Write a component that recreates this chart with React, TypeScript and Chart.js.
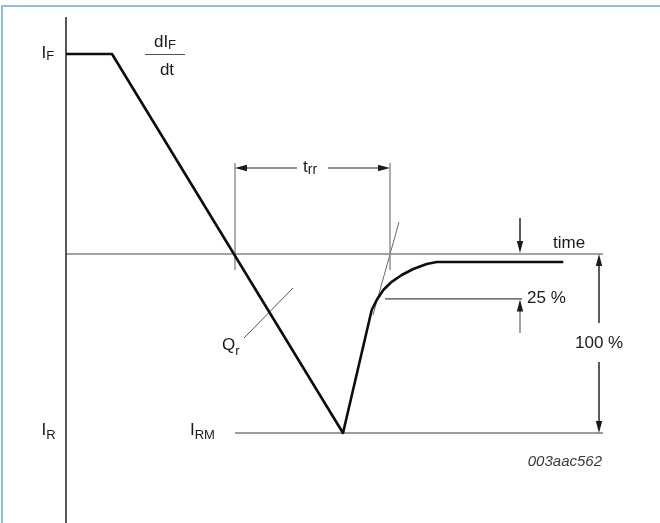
import React, { useEffect, useRef } from "react";
import { Chart, registerables } from "chart.js";

Chart.register(...registerables);

// ---- data (time in arbitrary units, current normalised to I_F = 1) ----
const I_F = 1.0;
const I_RM = -0.895;
const I_25 = -0.224; // 25 % of I_RM
const T_ZERO = 16.9; // zero crossing, start of t_rr
const T_RR_END = 32.4; // end of t_rr
const T_MARK = 45.4; // position of the small arrows
const T_DIM = 53.3; // position of 100 % dimension
const T_LINE_END = 53.7;

const curveTime = [0, 4.6, 27.7, 30.57, 31.07, 31.73, 32.57, 33.57, 34.73, 36.07, 37.07, 49.73];
const curveCurrent = [1, 1, -0.895, -0.28, -0.23, -0.18, -0.139, -0.105, -0.075, -0.05, -0.04, -0.04];

const axisTime = [0, 0];
const axisCurrent = [1.185, -1.345];

const tangentTime = [33.3, 30.7];
const tangentCurrent = [0.16, -0.305];

const qrTickTime = [22.7, 17.8];
const qrTickCurrent = [-0.17, -0.42];

const trrLevel = 0.43;
const trrVertTop = 0.455;
const trrVertBottom = -0.08;

const FONT = '"Liberation Sans", Arial, Helvetica, sans-serif';
const LINE_GREY = "#6a6a6a";

function seg(x1: number, y1: number, x2: number, y2: number, color = LINE_GREY, width = 1) {
  return {
    data: [
      { x: x1, y: y1 },
      { x: x2, y: y2 },
    ],
    borderColor: color,
    borderWidth: width,
    pointRadius: 0,
    tension: 0,
    fill: false,
  };
}

function arrowHead(ctx: CanvasRenderingContext2D, x: number, y: number, dir: string) {
  const L = 12;
  const W = 3.2;
  ctx.beginPath();
  ctx.moveTo(x, y);
  if (dir === "left") {
    ctx.lineTo(x + L, y - W);
    ctx.lineTo(x + L, y + W);
  } else if (dir === "right") {
    ctx.lineTo(x - L, y - W);
    ctx.lineTo(x - L, y + W);
  } else if (dir === "up") {
    ctx.lineTo(x - W, y + L);
    ctx.lineTo(x + W, y + L);
  } else {
    ctx.lineTo(x - W, y - L);
    ctx.lineTo(x + W, y - L);
  }
  ctx.closePath();
  ctx.fill();
}

function subText(
  ctx: CanvasRenderingContext2D,
  x: number,
  y: number,
  main: string,
  sub: string,
  size = 17,
  subSize = 13,
  dy = 3
) {
  ctx.font = `${size}px ${FONT}`;
  ctx.fillText(main, x, y);
  const w = ctx.measureText(main).width;
  ctx.font = `${subSize}px ${FONT}`;
  ctx.fillText(sub, x + w, y + dy);
  return w + ctx.measureText(sub).width;
}

const annotationPlugin = {
  id: "annotations",
  afterDatasetsDraw(chart: any) {
    const ctx: CanvasRenderingContext2D = chart.ctx;
    const xs = chart.scales.x;
    const ys = chart.scales.y;
    const px = (t: number) => xs.getPixelForValue(t);
    const py = (i: number) => ys.getPixelForValue(i);
    ctx.save();
    ctx.fillStyle = "#1a1a1a";
    ctx.textBaseline = "alphabetic";
    ctx.textAlign = "left";

    // arrowheads
    arrowHead(ctx, px(T_ZERO), py(trrLevel), "left");
    arrowHead(ctx, px(T_RR_END), py(trrLevel), "right");
    arrowHead(ctx, px(T_MARK), py(0.005), "down");
    arrowHead(ctx, px(T_MARK), py(I_25 - 0.004), "up");
    arrowHead(ctx, px(T_DIM), py(0), "up");
    arrowHead(ctx, px(T_DIM), py(I_RM), "down");

    const x0 = px(0);
    // I_F
    subText(ctx, x0 - 24.5, py(I_F) + 4, "I", "F", 17, 13, 2);
    // I_R
    subText(ctx, x0 - 24.5, py(I_RM) + 2, "I", "R", 17, 13, 4);
    // I_RM
    subText(ctx, px(12.4), py(I_RM) + 2, "I", "RM", 17, 13, 4);

    // dI_F / dt
    const fx = px(9.9);
    const fy = py(I_F);
    ctx.font = `17px ${FONT}`;
    const wdI = ctx.measureText("dI").width;
    ctx.font = `13px ${FONT}`;
    const wF = ctx.measureText("F").width;
    const fracW = wdI + wF;
    subText(ctx, fx - fracW / 2, fy - 7, "dI", "F", 17, 13, 1.5);
    ctx.strokeStyle = "#555";
    ctx.lineWidth = 1;
    ctx.beginPath();
    ctx.moveTo(px(7.9), fy + 0.5);
    ctx.lineTo(px(11.9), fy + 0.5);
    ctx.stroke();
    ctx.font = `17px ${FONT}`;
    ctx.textAlign = "center";
    ctx.fillText("dt", fx + 2, fy + 21);
    ctx.textAlign = "left";

    // t_rr
    subText(ctx, px(23.7), py(trrLevel) + 4, "t", "rr", 17, 14, 2);

    // Q_r
    subText(ctx, px(15.6), py(-0.48), "Q", "r", 17, 13, 5);

    // time
    ctx.font = `17px ${FONT}`;
    ctx.fillText("time", px(48.7), py(0) - 6);
    // 25 %
    ctx.fillText("25 %", px(46.1), py(I_25) + 4);
    // 100 %
    ctx.fillText("100 %", px(50.9), py(-0.47));

    // figure code
    ctx.font = `italic 15px ${FONT}`;
    ctx.fillStyle = "#3a3a3a";
    ctx.textAlign = "right";
    ctx.fillText("003aac562", px(T_LINE_END) - 1, py(-1.06));

    ctx.restore();
  },
};

export default function App() {
  const canvasRef = useRef<HTMLCanvasElement | null>(null);

  useEffect(() => {
    if (!canvasRef.current) return;
    const mainCurve = {
      data: curveTime.map((t, i) => ({ x: t, y: curveCurrent[i] })),
      borderColor: "#0d0d0d",
      borderWidth: 2.6,
      pointRadius: 0,
      tension: 0,
      fill: false,
      borderJoinStyle: "round" as const,
    };
    const datasets: any[] = [
      mainCurve,
      seg(axisTime[0], axisCurrent[0], axisTime[1], axisCurrent[1], "#2e2e2e", 1.6),
      seg(0, 0, T_LINE_END, 0, "#858585", 1.4),
      seg(T_ZERO, I_RM, T_LINE_END, I_RM, "#3a3a3a", 1.2),
      seg(T_ZERO, trrVertTop, T_ZERO, trrVertBottom, "#8a8a8a", 1.4),
      seg(T_RR_END, trrVertTop, T_RR_END, trrVertBottom, "#8a8a8a", 1.4),
      seg(T_ZERO + 0.8, trrLevel, 23.1, trrLevel, "#222", 1),
      seg(26.2, trrLevel, T_RR_END - 0.8, trrLevel, "#222", 1),
      seg(tangentTime[0], tangentCurrent[0], tangentTime[1], tangentCurrent[1], "#6a6a6a", 1),
      seg(31.9, I_25, 45.6, I_25, "#444", 1.2),
      seg(T_MARK, 0.18, T_MARK, 0.03, "#444", 1),
      seg(T_MARK, -0.395, T_MARK, -0.26, "#444", 1),
      seg(T_DIM, -0.04, T_DIM, -0.345, "#444", 1),
      seg(T_DIM, -0.54, T_DIM, I_RM + 0.04, "#444", 1),
      seg(qrTickTime[0], qrTickCurrent[0], qrTickTime[1], qrTickCurrent[1], "#555", 1),
    ];
    const chart = new Chart(canvasRef.current, {
      type: "line",
      data: { datasets },
      options: {
        animation: false,
        responsive: false,
        devicePixelRatio: 1,
        layout: { padding: 0 },
        plugins: { legend: { display: false }, tooltip: { enabled: false } },
        scales: {
          x: { type: "linear", min: -6.6, max: 59.4, display: false },
          y: { type: "linear", min: -1.345, max: 1.27, display: false },
        },
        elements: { line: { capBezierPoints: false } },
      },
      plugins: [annotationPlugin],
    } as any);
    return () => chart.destroy();
  }, []);

  return (
    <div style={{ position: "absolute", left: 0, top: 0, width: 660, height: 523, background: "#fff", overflow: "hidden" }}>
      <div
        style={{
          position: "absolute",
          left: 1,
          top: 5,
          right: 0,
          bottom: 0,
          borderTop: "2px solid #8dbfd6",
          borderLeft: "2px solid #8dbfd6",
        }}
      />
      <canvas ref={canvasRef} width={660} height={523} style={{ position: "absolute", left: 0, top: 0 }} />
    </div>
  );
}
